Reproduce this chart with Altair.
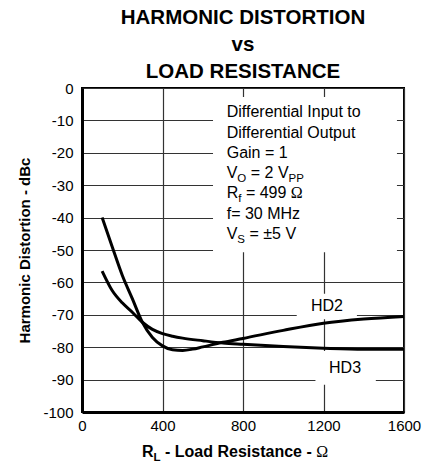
import altair as alt
import pandas as pd

# ---------------- data ----------------
hd2_load = [100, 150, 200, 250, 300, 350, 400, 450, 500, 550, 600, 700, 800, 1000, 1200, 1400, 1600]
hd2_dbc = [-40, -49, -57.8, -65, -72.3, -77, -79.6, -80.8, -81, -80.6, -79.9, -78.5, -77.3, -74.8, -72.6, -71.3, -70.5]
hd3_load = [100, 150, 200, 250, 300, 350, 400, 450, 500, 600, 700, 800, 1000, 1200, 1400, 1600]
hd3_dbc = [-56.5, -62.5, -66.3, -69.2, -72.3, -74.5, -75.8, -76.6, -77.2, -78.0, -78.7, -79.1, -79.8, -80.3, -80.6, -80.6]
series_names = ["HD2", "HD3"]

x_ticks = [0, 400, 800, 1200, 1600]
y_ticks = [-100, -90, -80, -70, -60, -50, -40, -30, -20, -10, 0]
title_lines = ["HARMONIC DISTORTION", "vs", "LOAD RESISTANCE"]
y_title = "Harmonic Distortion - dBc"

# annotation text (conditions box); "s" = subscript, "g" = symbol glyph
cond_lines = [
    [("Differential Input to", "n")],
    [("Differential Output", "n")],
    [("Gain = 1", "n")],
    [("V", "n"), ("O", "s"), (" = 2 V", "n"), ("PP", "s")],
    [("R", "n"), ("f", "s"), (" = 499 ", "n"), ("Ω", "g")],
    [("f= 30 MHz", "n")],
    [("V", "n"), ("S", "s"), (" = ±5 V", "n")],
]
x_title_pieces = [("R", "n"), ("L", "s"), (" - Load Resistance - ", "n"), ("Ω", "g")]

# ---------------- layout / style (not data) ----------------
FONT = "Liberation Sans"
W, H = 322, 324
cond_x = 719
cond_y = [-9.0, -15.3, -21.6, -27.8, -34.1, -40.4, -46.6]
white_boxes = pd.DataFrame({
    "x": [651, 1067, 1160], "x2": [1565, 1366, 1460],
    "y": [-2.8, -63.5, -81.2], "y2": [-50.7, -71.4, -91.6],
})
series_labels = pd.DataFrame({"x": [1217, 1307], "y": [-67.3, -86.5], "t": series_names})

REG = {" ": 278, "=": 584, "±": 584, "V": 667, "O": 778, "P": 667, "R": 722,
       "S": 667, "f": 278, "Ω": 768, "L": 556}
for d in "0123456789":
    REG[d] = 556
BOLD = {" ": 278, "-": 333, "L": 611, "o": 611, "a": 556, "d": 611, "R": 722,
        "e": 556, "s": 556, "i": 278, "t": 333, "n": 611, "c": 556, "Ω": 768}


def width(s, size, table):
    return sum(table.get(c, 556) for c in s) * size / 1000.0


x_scale = alt.Scale(domain=[0, 1600], nice=False, zero=False)
y_scale = alt.Scale(domain=[-100, 0], nice=False, zero=False)

axis_common = dict(ticks=False, grid=True, gridColor="#333333", gridWidth=1.2,
                   domainColor="black", domainWidth=3, labelFont=FONT, labelFontSize=15,
                   labelColor="black", labelExpr="datum.value + ''")
x_axis = alt.Axis(values=x_ticks, title=None, labelPadding=6, labelFlush=False, **axis_common)
y_axis = alt.Axis(values=y_ticks, title=y_title, titleFont=FONT, titleFontSize=15,
                  titleFontWeight="bold", titleColor="black", titlePadding=10,
                  labelPadding=9, **axis_common)


def X(field):
    return alt.X(field, scale=x_scale, axis=x_axis)


def Y(field):
    return alt.Y(field, scale=y_scale, axis=y_axis)


df = pd.concat([
    pd.DataFrame({"load": hd2_load, "dbc": hd2_dbc, "series": series_names[0]}),
    pd.DataFrame({"load": hd3_load, "dbc": hd3_dbc, "series": series_names[1]}),
])

boxes = alt.Chart(white_boxes).mark_rect(fill="white").encode(
    x=X("x:Q"), x2="x2:Q", y=Y("y:Q"), y2="y2:Q",
)

curves = alt.Chart(df).mark_line(color="black", strokeWidth=3, interpolate="monotone").encode(
    x=X("load:Q"), y=Y("dbc:Q"), detail="series:N",
)

hd_text = alt.Chart(series_labels).mark_text(font=FONT, fontSize=16, color="black",
                                             align="center", baseline="middle").encode(
    x=X("x:Q"), y=Y("y:Q"), text="t:N",
)

layers = [boxes, curves, hd_text]

# conditions text (data coordinates, subscripts via dx/dy offsets)
for line, yv in zip(cond_lines, cond_y):
    off = 0.0
    for txt, kind in line:
        size = 11.5 if kind == "s" else 16
        dy = 4 if kind == "s" else 0
        fnt = "Liberation Serif" if kind == "g" else FONT
        lead = len(txt) - len(txt.lstrip(" "))
        core = txt.strip(" ")
        trail = len(txt) - lead - len(core)
        off += lead * REG[" "] * size / 1000.0
        layers.append(
            alt.Chart(pd.DataFrame({"x": [cond_x], "y": [yv], "t": [core]})).mark_text(
                font=fnt, fontSize=size, color="black", align="left", baseline="alphabetic",
                dx=off, dy=dy,
            ).encode(x=X("x:Q"), y=Y("y:Q"), text="t:N")
        )
        off += width(core, size, REG) + trail * REG[" "] * size / 1000.0

# x axis title: R_L - Load Resistance - Ω (placed below the axis)
xt_x = 60.0
xt_y = 369
for txt, kind in x_title_pieces:
    size = 11.5 if kind == "s" else 16
    dy = 4 if kind == "s" else 0
    fnt = "Liberation Serif" if kind == "g" else FONT
    wt = "normal" if kind == "g" else "bold"
    lead = len(txt) - len(txt.lstrip(" "))
    core = txt.strip(" ")
    trail = len(txt) - lead - len(core)
    xt_x += lead * BOLD[" "] * size / 1000.0
    layers.append(
        alt.Chart(pd.DataFrame({"t": [core]})).mark_text(
            font=fnt, fontSize=size, fontWeight=wt, color="black", align="left",
            baseline="alphabetic", dy=dy,
        ).encode(x=alt.value(xt_x), y=alt.value(xt_y), text="t:N")
    )
    xt_x += width(core, size, BOLD) + trail * BOLD[" "] * size / 1000.0

chart = alt.layer(*layers).properties(
    width=W, height=H,
    title=alt.Title(title_lines, font=FONT, fontSize=20.5, fontWeight="bold", color="black",
                    lineHeight=27, anchor="middle", offset=-1.5),
    autosize=alt.AutoSizeParams(type="none"),
    padding={"left": 74, "top": 80, "right": 26, "bottom": 53},
).configure_view(stroke="black", strokeWidth=2)

chart.save("out.html", embed_options={"renderer": "svg", "actions": False})
